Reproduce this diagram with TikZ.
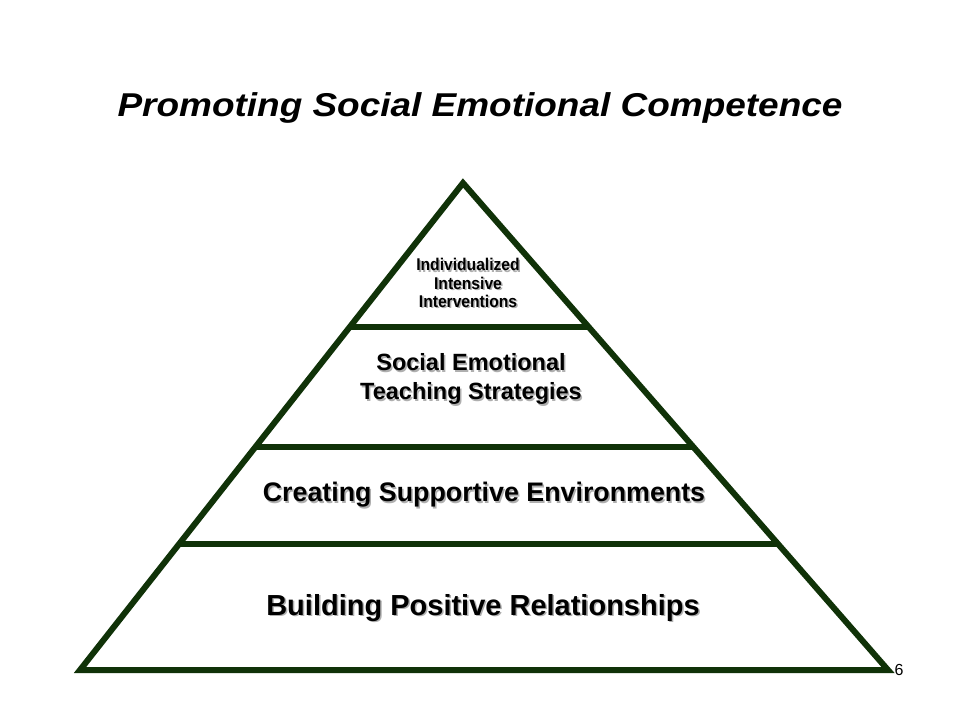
\documentclass[tikz,border=0pt]{standalone}
\usepackage{fontspec}
\usetikzlibrary{calc}
\setmainfont{Liberation Sans}
\newfontfamily\narrowfont[FakeStretch=0.92]{Liberation Sans}
\newfontfamily\widefont[FakeStretch=1.12]{Liberation Sans}
\definecolor{pyrgreen}{RGB}{16,50,8}
\definecolor{shadowgray}{RGB}{175,175,175}
\tikzset{
  edge/.style={draw=pyrgreen, line width=6pt, line cap=butt, line join=miter},
  lbl/.style={align=center, inner sep=0pt, font=\bfseries},
  shd/.style={lbl, text=shadowgray},
}
\begin{document}
\begin{tikzpicture}[x=1pt,y=-1pt]
\useasboundingbox (0,0) rectangle (960,720);
\fill[white] (0,0) rectangle (960,720);
% title
\node[lbl, font=\widefont\bfseries\itshape\fontsize{33}{38}\selectfont] (title) at (480,108) {Promoting Social Emotional Competence};
% pyramid corners
\coordinate (apex) at (463,183);
\coordinate (bl) at (80,670);
\coordinate (br) at (888,670);
\coordinate (l1) at ($(apex)!0.2957!(bl)$);
\coordinate (r1) at ($(apex)!0.2957!(br)$);
\coordinate (l2) at ($(apex)!0.5421!(bl)$);
\coordinate (r2) at ($(apex)!0.5421!(br)$);
\coordinate (l3) at ($(apex)!0.7413!(bl)$);
\coordinate (r3) at ($(apex)!0.7413!(br)$);
\draw[edge] (apex) -- (br) -- (bl) -- cycle;
\draw[edge] (l1) -- (r1);
\draw[edge] (l2) -- (r2);
\draw[edge] (l3) -- (r3);
% level texts with shadows
\node[shd, font=\narrowfont\bfseries\fontsize{17}{18.3}\selectfont] (t1s) at (469.5,284.5) {Individualized\\Intensive\\Interventions};
\node[lbl, font=\narrowfont\bfseries\fontsize{17}{18.3}\selectfont] (t1) at (468,283) {Individualized\\Intensive\\Interventions};
\node[shd, font=\bfseries\fontsize{23.5}{29}\selectfont] (t2s) at (472.5,380.5) {Social Emotional\\Teaching Strategies};
\node[lbl, font=\bfseries\fontsize{23.5}{29}\selectfont] (t2) at (471,379) {Social Emotional\\Teaching Strategies};
\node[shd, font=\bfseries\fontsize{26.8}{30}\selectfont] (t3s) at (485.5,496.5) {Creating Supportive Environments};
\node[lbl, font=\bfseries\fontsize{26.8}{30}\selectfont] (t3) at (484,495) {Creating Supportive Environments};
\node[shd, font=\bfseries\fontsize{29}{32}\selectfont] (t4s) at (484.5,609.5) {Building Positive Relationships};
\node[lbl, font=\bfseries\fontsize{29}{32}\selectfont] (t4) at (483,608) {Building Positive Relationships};
% page number
\node[inner sep=0pt, font=\fontsize{16}{18}\selectfont] (pg) at (899,670) {6};
\end{tikzpicture}
\end{document}
